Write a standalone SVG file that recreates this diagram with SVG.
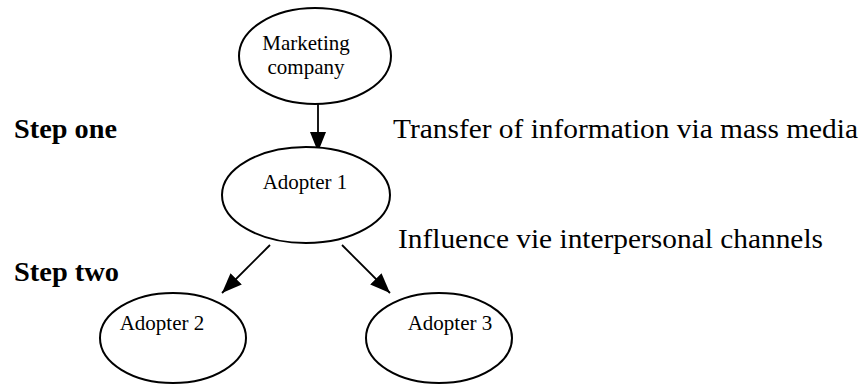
<svg xmlns="http://www.w3.org/2000/svg" width="864" height="385" viewBox="0 0 864 385">
<defs>
<style>
.node ellipse{fill:#fff;stroke:#000;stroke-width:2}
.nt{font-family:"Liberation Serif","Times New Roman",serif;font-size:21px;fill:#000;text-anchor:middle}
.lbl{font-family:"Liberation Serif","Times New Roman",serif;font-size:27px;fill:#000}
.step{font-family:"Liberation Serif","Times New Roman",serif;font-size:27px;font-weight:bold;fill:#000}
.conn line{stroke:#000;stroke-width:1.8}
</style>
<marker id="ah" markerUnits="userSpaceOnUse" markerWidth="20" markerHeight="16" viewBox="0 0 20 16" refX="20" refY="8" orient="auto">
<path d="M0,0 L20,8 L0,16 Z" fill="#000"/>
</marker>
</defs>
<rect width="864" height="385" fill="#fff"/>
<g id="connectors" class="conn">
<line x1="318" y1="104" x2="318" y2="152" marker-end="url(#ah)"/>
<line x1="270" y1="245" x2="222" y2="293" marker-end="url(#ah)"/>
<line x1="342" y1="245" x2="390" y2="293" marker-end="url(#ah)"/>
</g>
<g id="marketing" class="node">
<ellipse cx="315" cy="56" rx="76" ry="48"/>
<text class="nt" x="306" y="50">Marketing</text>
<text class="nt" x="306" y="74">company</text>
</g>
<g id="adopter1" class="node">
<ellipse cx="306" cy="195" rx="84" ry="48"/>
<text class="nt" x="305" y="189">Adopter 1</text>
</g>
<g id="adopter2" class="node">
<ellipse cx="173" cy="338" rx="73" ry="45"/>
<text class="nt" x="162" y="330">Adopter 2</text>
</g>
<g id="adopter3" class="node">
<ellipse cx="439" cy="338" rx="73" ry="45"/>
<text class="nt" x="450" y="330">Adopter 3</text>
</g>
<g id="labels">
<text class="step" x="14" y="138" textLength="103" lengthAdjust="spacingAndGlyphs">Step one</text>
<text class="step" x="14" y="281" textLength="105" lengthAdjust="spacingAndGlyphs">Step two</text>
<text class="lbl" x="393" y="138" textLength="465" lengthAdjust="spacingAndGlyphs">Transfer of information via mass media</text>
<text class="lbl" x="398" y="248" textLength="425" lengthAdjust="spacingAndGlyphs">Influence vie interpersonal channels</text>
</g>
</svg>
